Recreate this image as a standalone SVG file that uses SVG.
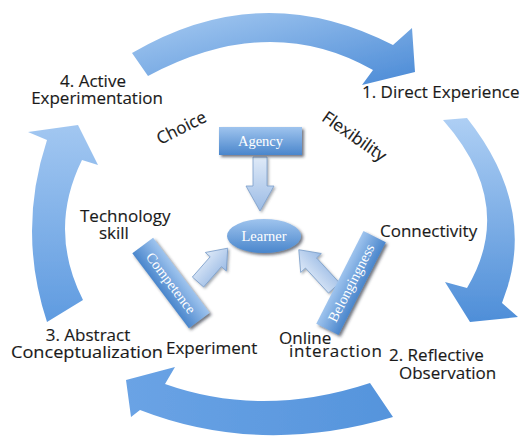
<svg xmlns="http://www.w3.org/2000/svg" width="522" height="442" viewBox="0 0 522 442">
<style>
.lbl{font-family:"Open Sans","Liberation Sans",sans-serif;font-size:17px;fill:#1a1a1a;stroke:#1a1a1a;stroke-width:0.15}
.box{font-family:"Liberation Serif","DejaVu Serif",serif;font-size:14.5px;fill:#ffffff}
.big{stroke:none}
.blk{fill:url(#gBlk);stroke:#7c9fcb;stroke-width:0.8}
</style>
<defs>
<linearGradient id="gTop" x1="0" y1="0" x2="1" y2="1"><stop offset="0" stop-color="#a9ccf2"/><stop offset="1" stop-color="#4a8ad6"/></linearGradient>
<linearGradient id="gV" x1="0" y1="0" x2="0" y2="1"><stop offset="0" stop-color="#aecff4"/><stop offset="1" stop-color="#4e8ed8"/></linearGradient>
<linearGradient id="gLeft" x1="0" y1="0" x2="0" y2="1"><stop offset="0" stop-color="#a2c7f1"/><stop offset="1" stop-color="#5f9be0"/></linearGradient>
<linearGradient id="gBot" x1="0" y1="0" x2="1" y2="0"><stop offset="0" stop-color="#6aa3e5"/><stop offset="1" stop-color="#5594dc"/></linearGradient>
<linearGradient id="gBox" x1="0" y1="0" x2="0" y2="1"><stop offset="0" stop-color="#9fc4ee"/><stop offset="1" stop-color="#4a86cc"/></linearGradient>
<linearGradient id="gBlk" x1="0" y1="0" x2="0" y2="1"><stop offset="0" stop-color="#dfeaf8"/><stop offset="1" stop-color="#9bbbe5"/></linearGradient>
<filter id="sh" x="-30%" y="-30%" width="160%" height="160%"><feDropShadow dx="2" dy="2" stdDeviation="1.6" flood-color="#202a38" flood-opacity="0.65"/></filter>
<filter id="shs" x="-30%" y="-30%" width="160%" height="160%"><feDropShadow dx="1.5" dy="1.5" stdDeviation="1.2" flood-color="#404a58" flood-opacity="0.45"/></filter>
<filter id="soft"><feGaussianBlur stdDeviation="0.6"/></filter>
</defs>

<g id="connectors">
<path class="big" filter="url(#soft)" fill="url(#gTop)" d="M132,53 Q261,-23 393,45 L412,28 L415,72 L362,85 L373,70 Q269.5,11 148,76 Z"/>
<path class="big" filter="url(#soft)" fill="url(#gV)" d="M443,120 L467,118 Q539.5,209.5 502,303 L518,317 L470,322 L445,282 L467,288 Q517,204 443,120 Z"/>
<path class="big" filter="url(#soft)" fill="url(#gBot)" d="M393,417 Q259.5,456.5 140,410 L131,417 L126,380 L175,367 L165,384 Q262.5,418.5 370,383 Z"/>
<path class="big" filter="url(#soft)" fill="url(#gLeft)" d="M47,322 Q17,231 47,140 L28,132 L78,125 L98,165 L82,160 Q47.5,230 83,300 Z"/>
<g filter="url(#shs)">
<path class="blk" d="M253,157 L267,157 L267,186 L274,186 L260,211 L246,186 L253,186 Z"/>
<g transform="translate(198,282) rotate(-48.7)"><path class="blk" d="M0,-7.5 L27,-7.5 L27,-14 L45,0 L27,14 L27,7.5 L0,7.5 Z"/></g>
<g transform="translate(334,288) rotate(-132.6)"><path class="blk" d="M0,-7.5 L34,-7.5 L34,-14 L52,0 L34,14 L34,7.5 L0,7.5 Z"/></g>
</g>
</g>

<g id="stage-4"><text class="lbl" text-anchor="middle" x="93" y="87">4. Active</text><text class="lbl" text-anchor="middle" x="97" y="104">Experimentation</text></g>
<g id="stage-1"><text class="lbl" x="362" y="98">1. Direct Experience</text></g>
<g id="stage-2"><text class="lbl" x="389" y="361">2. Reflective</text><text class="lbl" x="399" y="379">Observation</text></g>
<g id="stage-3"><text class="lbl" text-anchor="middle" x="88" y="341">3. Abstract</text><text class="lbl" x="11" y="358" textLength="152" lengthAdjust="spacingAndGlyphs">Conceptualization</text></g>

<g id="label-choice"><text class="lbl" text-anchor="middle" transform="translate(184,133) rotate(-27)">Choice</text></g>
<g id="label-flexibility"><text class="lbl" text-anchor="middle" transform="translate(351,141) rotate(35)">Flexibility</text></g>
<g id="label-technology"><text class="lbl" x="80" y="222">Technology</text><text class="lbl" x="99" y="239">skill</text></g>
<g id="label-connectivity"><text class="lbl" x="380" y="237">Connectivity</text></g>
<g id="label-experiment"><text class="lbl" x="166" y="354">Experiment</text></g>
<g id="label-online"><text class="lbl" x="279" y="344">Online</text><text class="lbl" x="289" y="357" textLength="93" lengthAdjust="spacing">interaction</text></g>

<g id="agency"><rect x="219" y="127" width="83" height="28" fill="url(#gBox)" filter="url(#sh)"/><text class="box" text-anchor="middle" x="260.5" y="146">Agency</text></g>
<g id="learner"><ellipse cx="264" cy="236" rx="37" ry="17" fill="url(#gBox)" filter="url(#sh)"/><text class="box" text-anchor="middle" x="264" y="241">Learner</text></g>
<g id="competence"><g filter="url(#sh)"><rect transform="translate(171,283) rotate(53)" x="-47" y="-13" width="94" height="26" fill="url(#gBox)"/></g><text class="box" text-anchor="middle" transform="translate(171,283) rotate(53)" y="5">Competence</text></g>
<g id="belongingness"><g filter="url(#sh)"><rect transform="translate(351,283) rotate(-63)" x="-52" y="-12.5" width="104" height="25" fill="url(#gBox)"/></g><text class="box" text-anchor="middle" transform="translate(351,283) rotate(-63)" y="5">Belongingness</text></g>
</svg>
